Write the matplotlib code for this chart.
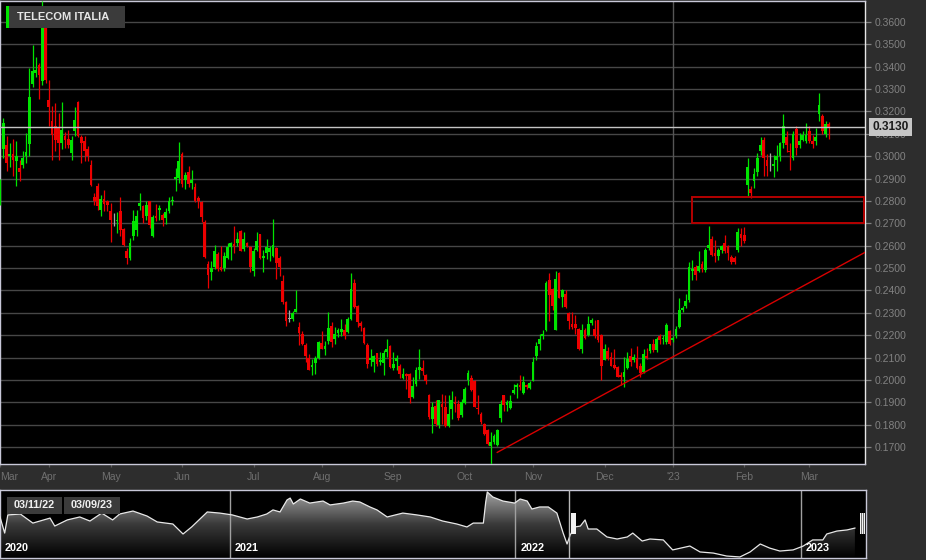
import numpy as np
import matplotlib
matplotlib.use("Agg")
import matplotlib.pyplot as plt
from matplotlib.patches import Rectangle
from matplotlib.colors import LinearSegmentedColormap

plt.rcParams['font.family'] = ['Liberation Sans', 'DejaVu Sans']

# ---------------- data ----------------
title = "TELECOM ITALIA"
start_date = '2022-03-11'
end_date = '2023-03-09'
holidays = ['2022-04-15', '2022-04-18', '2022-08-15', '2022-12-26']

opens = [
    0.2790, 0.3034, 0.3052, 0.3000, 0.3010, 0.2980, 0.2947, 0.2959, 0.3000, 0.3055,
    0.3324, 0.3370, 0.3409, 0.3335, 0.3618, 0.3253, 0.3156, 0.3134, 0.3126, 0.3059,
    0.3089, 0.3075, 0.3014, 0.3111, 0.3242, 0.3084, 0.3067, 0.3032, 0.2962, 0.2818,
    0.2865, 0.2761, 0.2810, 0.2801, 0.2754, 0.2719, 0.2710, 0.2755, 0.2675, 0.2575,
    0.2545, 0.2642, 0.2672, 0.2776, 0.2779, 0.2731, 0.2798, 0.2645, 0.2734, 0.2758,
    0.2739, 0.2724, 0.2754, 0.2799, 0.2897, 0.2904, 0.3012, 0.2892, 0.2929, 0.2879,
    0.2864, 0.2815, 0.2796, 0.2708, 0.2518, 0.2484, 0.2503, 0.2562, 0.2503, 0.2498,
    0.2547, 0.2592, 0.2607, 0.2614, 0.2666, 0.2585, 0.2614, 0.2592, 0.2488, 0.2582,
    0.2651, 0.2543, 0.2567, 0.2570, 0.2555, 0.2588, 0.2543, 0.2444, 0.2347, 0.2273,
    0.2273, 0.2305, 0.2236, 0.2206, 0.2157, 0.2097, 0.2057, 0.2075, 0.2099, 0.2164,
    0.2136, 0.2172, 0.2243, 0.2181, 0.2210, 0.2213, 0.2225, 0.2215, 0.2271, 0.2433,
    0.2331, 0.2253, 0.2230, 0.2158, 0.2088, 0.2081, 0.2118, 0.2081, 0.2076, 0.2125,
    0.2151, 0.2055, 0.2085, 0.2061, 0.2010, 0.2028, 0.2025, 0.1923, 0.1980, 0.2043,
    0.2051, 0.2021, 0.1931, 0.1826, 0.1883, 0.1800, 0.1893, 0.1881, 0.1796, 0.1871,
    0.1901, 0.1893, 0.1841, 0.1896, 0.1998, 0.2010, 0.1995, 0.1875, 0.1848, 0.1803,
    0.1776, 0.1706, 0.1721, 0.1710, 0.1830, 0.1931, 0.1886, 0.1875, 0.1941, 0.1967,
    0.1978, 0.1942, 0.1978, 0.1964, 0.1997, 0.2109, 0.2162, 0.2194, 0.2221, 0.2446,
    0.2408, 0.2224, 0.2480, 0.2371, 0.2386, 0.2301, 0.2251, 0.2251, 0.2229, 0.2139,
    0.2224, 0.2199, 0.2256, 0.2229, 0.2266, 0.2199, 0.2090, 0.2129, 0.2102, 0.2067,
    0.2057, 0.2024, 0.2012, 0.2054, 0.2109, 0.2087, 0.2099, 0.2060, 0.2034, 0.2109,
    0.2129, 0.2162, 0.2132, 0.2194, 0.2182, 0.2169, 0.2217, 0.2177, 0.2194, 0.2236,
    0.2311, 0.2329, 0.2356, 0.2485, 0.2505, 0.2485, 0.2519, 0.2493, 0.2589, 0.2630,
    0.2567, 0.2552, 0.2582, 0.2612, 0.2597, 0.2549, 0.2545, 0.2582, 0.2652, 0.2649,
    0.2872, 0.2853, 0.2887, 0.2928, 0.3021, 0.3071, 0.2981, 0.2947, 0.2957, 0.2984,
    0.2999, 0.3059, 0.3088, 0.3024, 0.2992, 0.3121, 0.3051, 0.3074, 0.3066, 0.3111,
    0.3066, 0.3066, 0.3190, 0.3178, 0.3100, 0.3145,
]
highs = [
    0.2900, 0.3171, 0.3089, 0.3060, 0.3077, 0.3070, 0.2985, 0.3022, 0.3104, 0.3394,
    0.3499, 0.3445, 0.3417, 0.3692, 0.3625, 0.3342, 0.3223, 0.3238, 0.3193, 0.3241,
    0.3110, 0.3119, 0.3092, 0.3219, 0.3245, 0.3096, 0.3089, 0.3044, 0.2985, 0.2836,
    0.2880, 0.2828, 0.2850, 0.2806, 0.2791, 0.2746, 0.2749, 0.2818, 0.2679, 0.2590,
    0.2634, 0.2758, 0.2758, 0.2835, 0.2783, 0.2798, 0.2798, 0.2735, 0.2788, 0.2780,
    0.2746, 0.2768, 0.2818, 0.2820, 0.2948, 0.3064, 0.3020, 0.2931, 0.2956, 0.2938,
    0.2882, 0.2822, 0.2800, 0.2715, 0.2533, 0.2533, 0.2604, 0.2570, 0.2597, 0.2573,
    0.2611, 0.2617, 0.2689, 0.2659, 0.2669, 0.2663, 0.2617, 0.2600, 0.2588, 0.2663,
    0.2654, 0.2580, 0.2632, 0.2600, 0.2718, 0.2592, 0.2552, 0.2470, 0.2354, 0.2313,
    0.2310, 0.2403, 0.2261, 0.2218, 0.2166, 0.2117, 0.2094, 0.2105, 0.2172, 0.2218,
    0.2176, 0.2302, 0.2258, 0.2236, 0.2233, 0.2270, 0.2250, 0.2280, 0.2478, 0.2451,
    0.2335, 0.2263, 0.2238, 0.2163, 0.2140, 0.2113, 0.2121, 0.2125, 0.2133, 0.2181,
    0.2155, 0.2125, 0.2111, 0.2069, 0.2055, 0.2031, 0.2031, 0.2013, 0.2058, 0.2136,
    0.2088, 0.2028, 0.1938, 0.1901, 0.1908, 0.1911, 0.1938, 0.1931, 0.1931, 0.1949,
    0.1926, 0.1911, 0.1916, 0.1968, 0.2043, 0.2021, 0.2001, 0.1931, 0.1856, 0.1808,
    0.1781, 0.1766, 0.1758, 0.1781, 0.1908, 0.1934, 0.1911, 0.1931, 0.1983, 0.1985,
    0.2024, 0.2019, 0.1982, 0.1997, 0.2102, 0.2169, 0.2206, 0.2224, 0.2443, 0.2479,
    0.2413, 0.2486, 0.2483, 0.2408, 0.2401, 0.2304, 0.2304, 0.2289, 0.2233, 0.2251,
    0.2233, 0.2284, 0.2278, 0.2266, 0.2269, 0.2204, 0.2162, 0.2147, 0.2124, 0.2139,
    0.2064, 0.2034, 0.2102, 0.2124, 0.2144, 0.2114, 0.2150, 0.2075, 0.2139, 0.2144,
    0.2162, 0.2184, 0.2191, 0.2206, 0.2199, 0.2254, 0.2221, 0.2194, 0.2240, 0.2364,
    0.2329, 0.2383, 0.2528, 0.2537, 0.2515, 0.2575, 0.2530, 0.2589, 0.2686, 0.2642,
    0.2627, 0.2589, 0.2604, 0.2649, 0.2604, 0.2560, 0.2555, 0.2679, 0.2679, 0.2682,
    0.2992, 0.2865, 0.2947, 0.3014, 0.3085, 0.3085, 0.3011, 0.3014, 0.3004, 0.3051,
    0.3063, 0.3190, 0.3111, 0.3059, 0.3111, 0.3133, 0.3103, 0.3111, 0.3148, 0.3133,
    0.3096, 0.3126, 0.3282, 0.3190, 0.3156, 0.3151,
]
lows = [
    0.2780, 0.2992, 0.2933, 0.2950, 0.2910, 0.2866, 0.2888, 0.2947, 0.2970, 0.3000,
    0.3310, 0.3354, 0.3256, 0.3320, 0.3328, 0.3134, 0.2985, 0.3022, 0.2985, 0.3030,
    0.3037, 0.3037, 0.2982, 0.3089, 0.3085, 0.2970, 0.2977, 0.2977, 0.2865, 0.2783,
    0.2761, 0.2731, 0.2754, 0.2757, 0.2615, 0.2687, 0.2657, 0.2642, 0.2597, 0.2520,
    0.2538, 0.2627, 0.2642, 0.2761, 0.2701, 0.2716, 0.2679, 0.2637, 0.2709, 0.2716,
    0.2687, 0.2699, 0.2746, 0.2783, 0.2845, 0.2882, 0.2864, 0.2852, 0.2864, 0.2852,
    0.2793, 0.2770, 0.2706, 0.2543, 0.2409, 0.2448, 0.2496, 0.2488, 0.2488, 0.2488,
    0.2540, 0.2537, 0.2567, 0.2600, 0.2574, 0.2577, 0.2592, 0.2484, 0.2463, 0.2577,
    0.2540, 0.2481, 0.2540, 0.2533, 0.2548, 0.2451, 0.2466, 0.2340, 0.2240, 0.2258,
    0.2265, 0.2302, 0.2154, 0.2154, 0.2080, 0.2043, 0.2020, 0.2028, 0.2094, 0.2136,
    0.2112, 0.2161, 0.2147, 0.2161, 0.2191, 0.2198, 0.2185, 0.2208, 0.2268, 0.2320,
    0.2238, 0.2218, 0.2160, 0.2055, 0.2061, 0.2036, 0.2061, 0.2066, 0.2024, 0.2103,
    0.2055, 0.2043, 0.2043, 0.2010, 0.2006, 0.1961, 0.1896, 0.1920, 0.1971, 0.2006,
    0.2021, 0.1983, 0.1826, 0.1763, 0.1796, 0.1785, 0.1803, 0.1791, 0.1791, 0.1826,
    0.1856, 0.1821, 0.1833, 0.1890, 0.1976, 0.1949, 0.1878, 0.1848, 0.1803, 0.1754,
    0.1711, 0.1625, 0.1714, 0.1706, 0.1811, 0.1860, 0.1860, 0.1871, 0.1938, 0.1919,
    0.1955, 0.1937, 0.1960, 0.1960, 0.1994, 0.2087, 0.2135, 0.2184, 0.2218, 0.2263,
    0.2311, 0.2221, 0.2364, 0.2326, 0.2323, 0.2226, 0.2229, 0.2206, 0.2132, 0.2120,
    0.2184, 0.2194, 0.2244, 0.2188, 0.2169, 0.2000, 0.2087, 0.2087, 0.2060, 0.2049,
    0.2012, 0.1975, 0.1970, 0.2049, 0.2064, 0.2079, 0.2049, 0.2012, 0.2030, 0.2094,
    0.2120, 0.2124, 0.2124, 0.2162, 0.2162, 0.2162, 0.2154, 0.2169, 0.2189, 0.2233,
    0.2304, 0.2323, 0.2350, 0.2448, 0.2448, 0.2481, 0.2481, 0.2481, 0.2582, 0.2552,
    0.2525, 0.2537, 0.2567, 0.2567, 0.2537, 0.2519, 0.2519, 0.2570, 0.2597, 0.2612,
    0.2820, 0.2811, 0.2858, 0.2910, 0.3007, 0.2913, 0.2913, 0.2932, 0.2907, 0.2932,
    0.2977, 0.3036, 0.3017, 0.2940, 0.2984, 0.3007, 0.3036, 0.3066, 0.3059, 0.3059,
    0.3036, 0.3051, 0.3156, 0.3100, 0.3085, 0.3078,
]
closes = [
    0.2888, 0.3149, 0.2970, 0.3010, 0.2985, 0.3000, 0.2930, 0.2992, 0.3020, 0.3265,
    0.3380, 0.3385, 0.3365, 0.3580, 0.3342, 0.3220, 0.3096, 0.3074, 0.3059, 0.3119,
    0.3074, 0.3050, 0.3074, 0.3163, 0.3092, 0.3059, 0.3022, 0.3000, 0.2873, 0.2798,
    0.2776, 0.2809, 0.2788, 0.2783, 0.2716, 0.2719, 0.2715, 0.2672, 0.2605, 0.2545,
    0.2612, 0.2709, 0.2734, 0.2791, 0.2724, 0.2783, 0.2694, 0.2728, 0.2724, 0.2768,
    0.2716, 0.2751, 0.2798, 0.2806, 0.2907, 0.2978, 0.2874, 0.2916, 0.2874, 0.2892,
    0.2800, 0.2800, 0.2726, 0.2548, 0.2469, 0.2498, 0.2577, 0.2496, 0.2491, 0.2555,
    0.2595, 0.2611, 0.2597, 0.2629, 0.2577, 0.2632, 0.2600, 0.2503, 0.2577, 0.2622,
    0.2547, 0.2555, 0.2592, 0.2590, 0.2604, 0.2522, 0.2503, 0.2347, 0.2265, 0.2273,
    0.2300, 0.2317, 0.2210, 0.2161, 0.2106, 0.2045, 0.2065, 0.2097, 0.2169, 0.2139,
    0.2151, 0.2231, 0.2169, 0.2206, 0.2225, 0.2228, 0.2195, 0.2271, 0.2406, 0.2328,
    0.2260, 0.2241, 0.2163, 0.2073, 0.2100, 0.2106, 0.2069, 0.2091, 0.2121, 0.2136,
    0.2058, 0.2070, 0.2096, 0.2028, 0.2028, 0.2016, 0.1920, 0.1971, 0.2046, 0.2058,
    0.2040, 0.1995, 0.1833, 0.1878, 0.1803, 0.1908, 0.1878, 0.1796, 0.1848, 0.1911,
    0.1893, 0.1830, 0.1901, 0.1961, 0.2031, 0.1953, 0.1881, 0.1871, 0.1811, 0.1758,
    0.1714, 0.1721, 0.1751, 0.1776, 0.1890, 0.1886, 0.1901, 0.1905, 0.1956, 0.1978,
    0.1967, 0.1990, 0.1967, 0.1985, 0.2082, 0.2150, 0.2184, 0.2206, 0.2434, 0.2379,
    0.2329, 0.2453, 0.2368, 0.2401, 0.2326, 0.2263, 0.2236, 0.2233, 0.2139, 0.2221,
    0.2189, 0.2251, 0.2266, 0.2194, 0.2177, 0.2064, 0.2139, 0.2094, 0.2064, 0.2054,
    0.2015, 0.2012, 0.2034, 0.2094, 0.2079, 0.2102, 0.2054, 0.2030, 0.2117, 0.2099,
    0.2159, 0.2132, 0.2184, 0.2180, 0.2189, 0.2244, 0.2162, 0.2189, 0.2229, 0.2314,
    0.2323, 0.2353, 0.2505, 0.2496, 0.2470, 0.2508, 0.2496, 0.2582, 0.2604, 0.2560,
    0.2552, 0.2582, 0.2597, 0.2575, 0.2567, 0.2525, 0.2527, 0.2660, 0.2634, 0.2619,
    0.2951, 0.2835, 0.2922, 0.2992, 0.3048, 0.2992, 0.2954, 0.2947, 0.2966, 0.3002,
    0.3059, 0.3136, 0.3051, 0.3017, 0.3100, 0.3036, 0.3066, 0.3096, 0.3096, 0.3066,
    0.3056, 0.3088, 0.3230, 0.3111, 0.3145, 0.3130,
]

last_price = 0.3130
month_labels = ['Mar', 'Apr', 'May', 'Jun', 'Jul', 'Aug', 'Sep', 'Oct', 'Nov',
                'Dec', "'23", 'Feb', 'Mar']
price_ticks = [0.17, 0.18, 0.19, 0.20, 0.21, 0.22, 0.23, 0.24, 0.25, 0.26,
               0.27, 0.28, 0.29, 0.30, 0.31, 0.32, 0.33, 0.34, 0.35, 0.36]

# annotations drawn on the chart
zone_start = '2023-01-10'
zone_low, zone_high = 0.2703, 0.2819
trend_dates = ['2022-10-17', '2023-03-09']
trend_prices = [0.1676, 0.2482]

# navigator (3-year history), day offsets from nav_start
nav_start = '2020-03-13'
nav_days = [0, 6, 10, 26, 42, 64, 70, 86, 102, 115, 130, 144, 153, 170, 188, 201, 221,
            234, 245, 265, 281, 297, 316, 329, 341, 349, 358, 367, 371, 375, 384, 396,
            413, 422, 439, 451, 460, 473, 482, 495, 515, 533, 550, 566, 584, 597, 605,
            618, 621, 623, 630, 643, 658, 665, 674, 680, 690, 701, 712, 716, 720, 725,
            729, 735, 742, 748, 752, 763, 776, 789, 802, 809, 821, 831, 848, 860, 882,
            895, 912, 929, 946, 959, 972, 984, 997, 1014, 1027, 1039, 1052, 1057, 1070,
            1083, 1093]
nav_vals = [0.378, 0.291, 0.389, 0.394, 0.345, 0.372, 0.329, 0.362, 0.378, 0.356, 0.399,
            0.362, 0.394, 0.410, 0.383, 0.351, 0.340, 0.286, 0.324, 0.405, 0.399, 0.389,
            0.367, 0.378, 0.394, 0.416, 0.405, 0.470, 0.480, 0.448, 0.475, 0.453, 0.464,
            0.443, 0.453, 0.464, 0.459, 0.432, 0.416, 0.378, 0.399, 0.389, 0.378, 0.356,
            0.340, 0.324, 0.345, 0.345, 0.459, 0.513, 0.486, 0.464, 0.453, 0.475, 0.464,
            0.421, 0.432, 0.432, 0.399, 0.345, 0.291, 0.232, 0.281, 0.324, 0.329, 0.362,
            0.313, 0.313, 0.270, 0.259, 0.270, 0.291, 0.248, 0.259, 0.254, 0.200, 0.221,
            0.189, 0.183, 0.167, 0.162, 0.189, 0.232, 0.210, 0.194, 0.200, 0.221, 0.254,
            0.254, 0.286, 0.302, 0.308, 0.318]
nav_years = ['2020', '2021', '2022', '2023']

# ---------------- style ----------------
BG = '#2d2d2d'
GREEN = '#00e400'
RED = '#ec0000'
GRAY = '#a8a8a8'
W, H = 926, 560

fig = plt.figure(figsize=(W / 100, H / 100), dpi=100, facecolor=BG)


def fr(x0, y0, x1, y1):
    """pixel box (top-left origin) -> figure fraction rect"""
    return [x0 / W, 1 - y1 / H, (x1 - x0) / W, (y1 - y0) / H]


# ---------------- main chart ----------------
days = np.arange(np.datetime64(start_date), np.datetime64(end_date) + 1)
dates = days[np.is_busday(days, holidays=holidays)]
o = np.array(opens); h = np.array(highs); l = np.array(lows); c = np.array(closes)
n = min(len(dates), len(o), len(h), len(l), len(c))
dates = dates[:n]; o = o[:n]; h = h[:n]; l = l[:n]; c = c[:n]
h = np.maximum(h, np.maximum(o, c)); l = np.minimum(l, np.minimum(o, c))
x = np.arange(n)

ax = fig.add_axes(fr(0, 0.5, 865, 464))
ax.set_facecolor('black')
xr = 865 / 3.25
ax.set_xlim(0, xr)
ax.set_ylim(0.1624, 0.3696)

colors = np.where(c > o, GREEN, np.where(c < o, RED, GRAY))
ax.vlines(x, l, h, colors=colors, lw=0.9, zorder=3)
bh = np.maximum(np.abs(c - o), 0.0004)
bb = np.where(c == o, o - 0.0002, np.minimum(o, c))
ax.bar(x, bh, bottom=bb, width=0.8, color=colors, lw=0, zorder=4)

# grid
ax.set_yticks(price_ticks)
ax.set_yticklabels([f'{v:.4f}' for v in price_ticks])
ax.grid(axis='y', color='#474747', lw=1.0, zorder=0)
ax.set_axisbelow(True)

months = dates.astype('datetime64[M]')
first = np.r_[True, months[1:] != months[:-1]]
tick_idx = np.nonzero(first)[0]
ax.set_xticks(tick_idx)
ax.set_xticklabels(month_labels[:len(tick_idx)])
ax.get_xticklabels()[0].set_ha('left')
year_idx = [i for i in tick_idx if dates[i].astype('datetime64[M]').astype(int) % 12 == 0]
for yi in year_idx:
    ax.axvline(yi, color='#555555', lw=1.0, zorder=1)

ax.yaxis.tick_right()
ax.tick_params(axis='y', colors='#828282', labelsize=7.5, length=4.3, width=0.9, pad=2.8)
ax.tick_params(axis='x', colors='#5a5a5a', labelcolor='#707070', labelsize=7.5,
               length=2.2, width=0.9, pad=3.5)
for s in ['left', 'top', 'bottom']:
    ax.spines[s].set_color('#c8c8d8')
ax.spines['right'].set_color('#e6e6e6')
for s in ax.spines.values():
    s.set_linewidth(1.0)

# last price line + label (sits over the 0.3100 tick label, as in the original)
ax.axhline(last_price, color='#c4c4c4', lw=1.0, zorder=5)
ax.annotate(f'{last_price:.4f}', xy=(1.0085, last_price),
            xycoords=('axes fraction', 'data'), ha='left', va='center',
            fontsize=8.6, fontweight='bold', color='#1c1c1c', annotation_clip=False,
            zorder=20,
            bbox=dict(boxstyle='square,pad=0.25', fc='#c6c6c6', ec='none'))

# red zone rectangle
zi = int(np.searchsorted(dates, np.datetime64(zone_start)))
ax.add_patch(Rectangle((zi, zone_low), xr - 0.2 - zi, zone_high - zone_low,
                       fill=False, ec='#b40000', lw=1.4, zorder=6))

# trendline, extended to the right edge
t0 = int(np.searchsorted(dates, np.datetime64(trend_dates[0])))
t1 = int(np.searchsorted(dates, np.datetime64(trend_dates[1])))
slope = (trend_prices[1] - trend_prices[0]) / (t1 - t0)
ax.plot([t0, xr], [trend_prices[0], trend_prices[0] + slope * (xr - t0)],
        color='#d80000', lw=1.0, zorder=6)

# title box
fig.add_artist(Rectangle((9 / W, 1 - 28 / H), 116 / W, 22 / H,
                         transform=fig.transFigure, fc='#3b3b3b', ec='none', zorder=10))
fig.add_artist(Rectangle((6 / W, 1 - 28 / H), 3 / W, 22 / H,
                         transform=fig.transFigure, fc=GREEN, ec='none', zorder=10))
fig.text(17 / W, 1 - 17.5 / H, title, fontsize=8, fontweight='bold', color='#e6e6e6',
         ha='left', va='center', zorder=11)

# ---------------- navigator ----------------
axn = fig.add_axes(fr(0, 490, 866, 558))
axn.set_facecolor('black')
nav_x_end = 866 * 1.2785
ny0, ny1 = 0.1564, 0.5236
axn.set_xlim(0, nav_x_end)
axn.set_ylim(ny0, ny1)
axn.set_xticks([]); axn.set_yticks([])
for s in axn.spines.values():
    s.set_color('#c8c8d8'); s.set_linewidth(1.0)

nd = np.array(nav_days, dtype=float); nv = np.array(nav_vals)
poly = axn.fill_between(nd, nv, ny0, color='none', lw=0)
cmap = LinearSegmentedColormap.from_list('navg', ['#000000', '#3a3a3a', '#a8a8a8'])
grad = np.linspace(1, 0, 256).reshape(-1, 1)
im = axn.imshow(grad, extent=[0, nav_x_end, ny0, ny1], aspect='auto', cmap=cmap,
                vmin=0, vmax=1, origin='upper', zorder=1)
im.set_clip_path(poly.get_paths()[0], transform=axn.transData)
axn.plot(nd, nv, color='#e8e8e8', lw=0.9, zorder=3)

ns = np.datetime64(nav_start)
for k, yr in enumerate(nav_years):
    yd = (np.datetime64(yr + '-01-01') - ns).astype(int)
    if yd > 0:
        axn.axvline(yd, color='#a0a0a0', lw=1.0, zorder=2)
    axn.text(max(yd, 0) + 6.5, 0.14, yr, transform=axn.get_xaxis_transform(),
             fontsize=7.8, fontweight='bold', color='white', ha='left', va='center',
             zorder=5)

# selection window
sel0 = (np.datetime64(start_date) - ns).astype(int)
axn.axvline(sel0, color='#b8b8b8', lw=1.0, zorder=4)
px = 1.2785
for hx in [sel0 + 1.5 * px, nav_x_end - 6.5 * px]:
    axn.add_patch(Rectangle((hx, 0.35), 5.5 * px, 0.31, transform=axn.get_xaxis_transform(),
                            fc='#f2f2f2', ec='none', zorder=6))
    for f in (1.8, 3.7):
        axn.add_patch(Rectangle((hx + f * px, 0.35), 0.7 * px, 0.31,
                                transform=axn.get_xaxis_transform(),
                                fc='#707070', ec='none', zorder=7))

# date boxes
d0 = np.datetime64(start_date).astype(object)
d1 = np.datetime64(end_date).astype(object)
for (bx0, bx1), dt in zip([(7, 62), (64, 120)], [d0, d1]):
    fig.add_artist(Rectangle((bx0 / W, 1 - 514 / H), (bx1 - bx0) / W, 17 / H,
                             transform=fig.transFigure, fc='#3b3b3b', ec='none', zorder=10))
    fig.text((bx0 + bx1) / 2 / W, 1 - 505.5 / H, dt.strftime('%m/%d/%y'), fontsize=7.8,
             fontweight='bold', color='#f0f0f0', ha='center', va='center', zorder=11)

fig.savefig('out.png', dpi=100, facecolor=BG)
